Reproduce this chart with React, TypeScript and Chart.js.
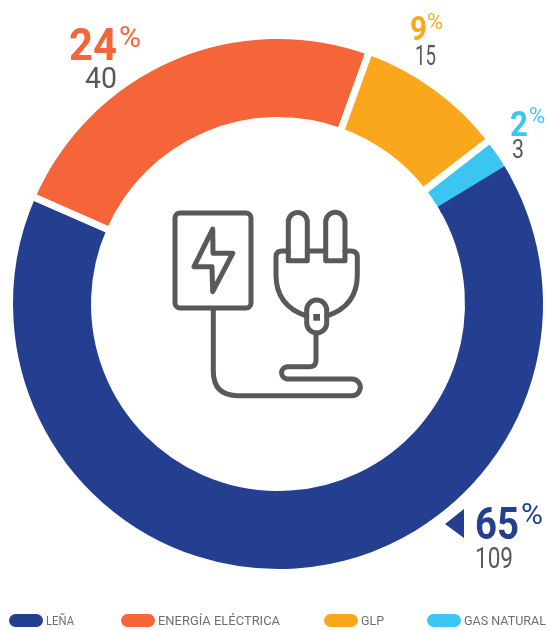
import React, { useEffect, useRef } from "react";
import { Chart, registerables } from "chart.js";

Chart.register(...registerables);

const categories = ["LEÑA", "ENERGÍA ELÉCTRICA", "GLP", "GAS NATURAL"];
const values = [109, 40, 15, 3];
const percents = [65, 24, 9, 2];
const colors = ["#243f8f", "#f56539", "#fba71b", "#3bc6f2"];
const GRAY = "#58595b";
const FONT = "Roboto, sans-serif";
const BORDER = 7;

// [x pct, baseline pct, size pct, width pct, x %, baseline %, size %, x value, baseline value, size value, width value]
const labelPlacement = [
  [475, 539, 44, 44, 521, 524, 30, 475, 568, 29, 38],
  [69, 60, 44, 48, 119, 47, 30, 85, 88, 29, 32],
  [410, 40, 34, 17, 427, 29, 22, 415, 65, 27, 21],
  [510, 136, 35, 18, 529, 123, 22, 512, 158, 25, 12],
];
const legendPlacement = [
  [9, 46, 28],
  [121, 158, 122],
  [324, 361, 23],
  [427, 464, 82],
];

// The reference has no white gap between the last and first slices: close that seam.
const closeSeam = {
  id: "closeSeam",
  afterDatasetsDraw(chart: any) {
    const arcs = chart.getDatasetMeta(0).data;
    const first = arcs[0];
    const last = arcs[arcs.length - 1];
    const { x, y, startAngle, outerRadius, innerRadius } = first;
    const outer = outerRadius - BORDER / 2;
    const inner = innerRadius + BORDER / 2;
    const overlap = 0.04;
    const ctx = chart.ctx;
    const patch = (a: number, b: number, color: string) => {
      ctx.beginPath();
      ctx.arc(x, y, outer, a, b);
      ctx.arc(x, y, inner, b, a, true);
      ctx.closePath();
      ctx.fillStyle = color;
      ctx.fill();
    };
    patch(last.endAngle - overlap, last.endAngle + 0.002, colors[colors.length - 1]);
    patch(startAngle, startAngle + overlap, colors[0]);
  },
};

export default function App() {
  const ref = useRef<HTMLCanvasElement>(null);
  useEffect(() => {
    const chart = new Chart(ref.current!, {
      type: "doughnut",
      data: {
        labels: categories,
        datasets: [
          {
            data: values,
            backgroundColor: colors,
            borderColor: "#ffffff",
            borderWidth: BORDER,
          },
        ],
      },
      options: {
        responsive: false,
        animation: false,
        rotation: 58.7,
        radius: 268.5,
        cutout: "68.34%",
        layout: { padding: { bottom: 22 } },
        plugins: { legend: { display: false }, tooltip: { enabled: false } },
      },
      plugins: [closeSeam],
    });
    return () => chart.destroy();
  }, []);

  return (
    <div style={{ position: "absolute", left: 0, top: 0, width: 548, height: 630, background: "#fff", overflow: "hidden" }}>
      <canvas ref={ref} width={556} height={630} style={{ position: "absolute", left: 0, top: 0 }} />
      <svg width={548} height={630} style={{ position: "absolute", left: 0, top: 0 }} fontFamily={FONT}>
        {/* icon */}
        <g fill="none" stroke={GRAY} strokeWidth={5} strokeLinecap="round" strokeLinejoin="round">
          <rect x={175} y={213} width={76} height={95} rx={5} />
          <path d="M212.7 229 L194 266.7 H212 L212.7 291.7 L232.7 253.3 H213 Z" />
          <path d="M213.3 310 V371 Q213.3 395.7 238 395.7 H352 A8.3 8.3 0 0 0 352 379 H287 A6.2 6.2 0 0 1 287 366.7 H310 Q316 366.7 316 360 V333" />
          <path d="M288.3 260.7 V222 A9.5 9.5 0 0 1 307.3 222 V260.7 Z" />
          <path d="M325.7 260.7 V222 A9.6 9.6 0 0 1 345 222 V260.7 Z" />
          <path d="M288.3 251 H282 Q276 251 276 257 V275 Q276 306 306.7 316" />
          <path d="M345 251 H351 Q357.3 251 357.3 257 V275 Q357.3 306 326.7 316" />
          <path d="M307.3 251 H325.7" />
          <rect x={306.7} y={300} width={20} height={33} rx={10} />
        </g>
        <rect x={313.3} y={314} width={6.7} height={6.7} fill={GRAY} />
        {/* pointer */}
        <polygon points="445,524 464,509 464,538" fill={colors[0]} />
        {/* value labels */}
        {labelPlacement.map((p, i) => (
          <g key={i}>
            <text x={p[0]} y={p[1]} fontSize={p[2]} fontWeight={700} fill={colors[i]} textLength={p[3]} lengthAdjust="spacingAndGlyphs">
              {percents[i]}
            </text>
            <text x={p[4]} y={p[5]} fontSize={p[6]} fontWeight={400} fill={colors[i]}>
              %
            </text>
            <text x={p[7]} y={p[8]} fontSize={p[9]} fontWeight={400} fill={GRAY} textLength={p[10]} lengthAdjust="spacingAndGlyphs">
              {values[i]}
            </text>
          </g>
        ))}
        {/* legend */}
        {categories.map((c, i) => (
          <g key={c}>
            <rect x={legendPlacement[i][0]} y={614} width={34} height={13} rx={6.5} fill={colors[i]} />
            <text
              x={legendPlacement[i][1]}
              y={625}
              fontSize={13}
              fill="#6d6e71"
              textLength={legendPlacement[i][2]}
              lengthAdjust="spacingAndGlyphs"
            >
              {c}
            </text>
          </g>
        ))}
      </svg>
    </div>
  );
}
